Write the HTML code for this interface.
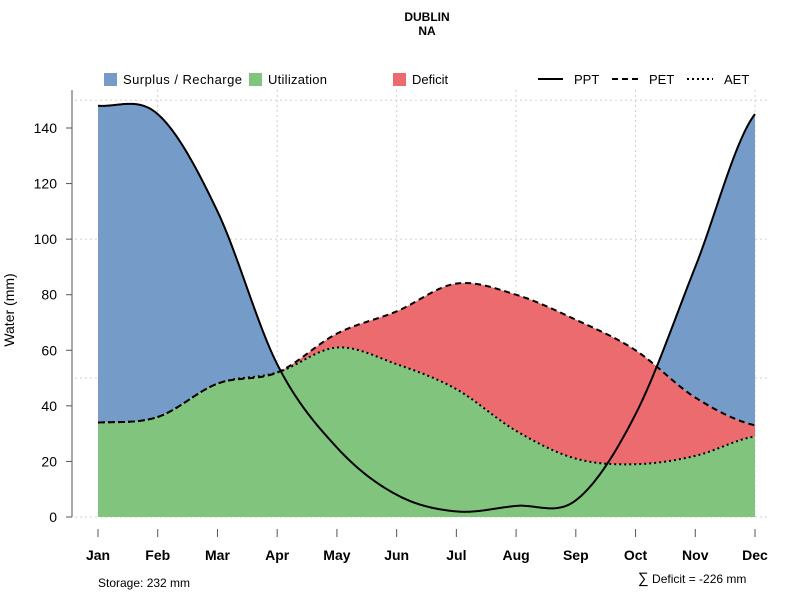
<!DOCTYPE html>
<html><head><meta charset="utf-8"><style>
body{margin:0;background:#fff;font-family:"Liberation Sans",sans-serif}
svg{display:block}
</style></head><body>
<svg id="chart" width="800" height="600" font-family="Liberation Sans, sans-serif">
<text x="427" y="21" text-anchor="middle" font-size="12" font-weight="bold">DUBLIN</text>
<text x="427" y="35" text-anchor="middle" font-size="12" font-weight="bold">NA</text>
<g id="grid"></g>
<g id="areas"></g>
<g id="lines"></g>
<g id="axes"></g>
<text transform="translate(14,310) rotate(-90)" text-anchor="middle" font-size="14">Water (mm)</text>
<g font-size="13" textLength="0">
<rect x="104" y="73" width="13" height="13" fill="#759cc9"/>
<text x="123" y="84" textLength="119">Surplus / Recharge</text>
<rect x="249" y="73" width="13" height="13" fill="#80c47d"/>
<text x="268" y="84" textLength="59">Utilization</text>
<rect x="393" y="73" width="13" height="13" fill="#eb6b6e"/>
<text x="412" y="84">Deficit</text>
<line x1="538" y1="79" x2="563" y2="79" stroke="#000" stroke-width="2"/>
<text x="574" y="84">PPT</text>
<line x1="612" y1="79" x2="638" y2="79" stroke="#000" stroke-width="2" stroke-dasharray="6,4"/>
<text x="649" y="84">PET</text>
<line x1="687" y1="79" x2="713" y2="79" stroke="#000" stroke-width="2" stroke-dasharray="2,3"/>
<text x="724" y="84">AET</text>
</g>
<text x="98" y="587" font-size="12">Storage: 232 mm</text>
<text x="638" y="583" font-size="12"><tspan font-size="15">∑</tspan> Deficit = -226 mm</text>
</svg>
<script>
const months=["Jan","Feb","Mar","Apr","May","Jun","Jul","Aug","Sep","Oct","Nov","Dec"];
const ppt=[148,145,110,55,25,8,2,4,6,37,90,145];
const pet=[34,36,48,52,66,74,84,80,71,60,43,33];
const aet=[34,36,48,52,61,55,46,31,21,19,22,29];
const yTicks=[0,20,40,60,80,100,120,140];
const yGrid=[0,50,100,150];
const NS="http://www.w3.org/2000/svg";
const X0=98,X1=755,Y0=517,YK=389/140;
const xs=i=>X0+(X1-X0)*i/(months.length-1);
const ys=v=>Y0-v*YK;
function mk(t,a,p){const e=document.createElementNS(NS,t);for(const k in a)e.setAttribute(k,a[k]);p.appendChild(e);return e;}
function interp(arr,t){const n=arr.length;let i=Math.min(Math.floor(t),n-2);const u=t-i;
 const p0=arr[Math.max(i-1,0)],p1=arr[i],p2=arr[i+1],p3=arr[Math.min(i+2,n-1)];
 const m1=(p2-p0)/2,m2=(p3-p1)/2;const u2=u*u,u3=u2*u;
 return (2*u3-3*u2+1)*p1+(u3-2*u2+u)*m1+(-2*u3+3*u2)*p2+(u3-u2)*m2;}
const N=400,T=[];for(let k=0;k<=N;k++)T.push(k*(months.length-1)/N);
const sP=T.map(t=>interp(ppt,t)),sE=T.map(t=>interp(pet,t)),sA=T.map(t=>interp(aet,t));
const px=T.map(t=>X0+(X1-X0)*t/(months.length-1));
const grid=document.getElementById('grid');
for(let i=1;i<months.length;i+=2){const g=mk('line',{x1:xs(i),x2:xs(i),y1:90,y2:Y0,stroke:'#d0d0d0','stroke-dasharray':'2,3'},grid);
}
yGrid.forEach(v=>{const g=mk('line',{x1:75,x2:770,y1:ys(v),y2:ys(v),stroke:'#d0d0d0','stroke-dasharray':'2,3'},grid);
});
function band(lo,hi,fill,name){let d='M'+px.map((x,k)=>x+','+ys(hi[k])).join('L');
 for(let k=N;k>=0;k--)d+='L'+px[k]+','+ys(lo[k]);d+='Z';
 const p=mk('path',{d:d,fill:fill},document.getElementById('areas'));
 }
const zeroBand=T.map(()=>0),upperBand=sP.map((v,k)=>Math.max(v,sE[k]));
band(sE,upperBand,'#759cc9','surplus-area');
band(sA,sE,'#eb6b6e','deficit-area');
band(zeroBand,sA,'#80c47d','utilization-area');
function line(s,dash,name){const p=mk('path',{d:'M'+px.map((x,k)=>x+','+ys(s[k])).join('L'),fill:'none',stroke:'#000','stroke-width':2,'stroke-dasharray':dash},document.getElementById('lines'));
 }
line(sA,'2,3','aet-line');line(sE,'6,4','pet-line');line(sP,'none','ppt-line');
const axes=document.getElementById('axes');
const ya=mk('line',{x1:72,x2:72,y1:90,y2:Y0,stroke:'#555'},axes);

yTicks.forEach(v=>{const t=mk('line',{x1:66,x2:72,y1:ys(v),y2:ys(v),stroke:'#555'},axes);

const l=mk('text',{x:57,y:ys(v)+5,'text-anchor':'end','font-size':14},axes);l.textContent=v;
});
months.forEach((m,i)=>{const t=mk('line',{x1:xs(i),x2:xs(i),y1:529,y2:537,stroke:'#555'},axes);

const l=mk('text',{x:xs(i),y:560,'text-anchor':'middle','font-size':14,'font-weight':'bold'},axes);l.textContent=m;
});
</script>
</body></html>
